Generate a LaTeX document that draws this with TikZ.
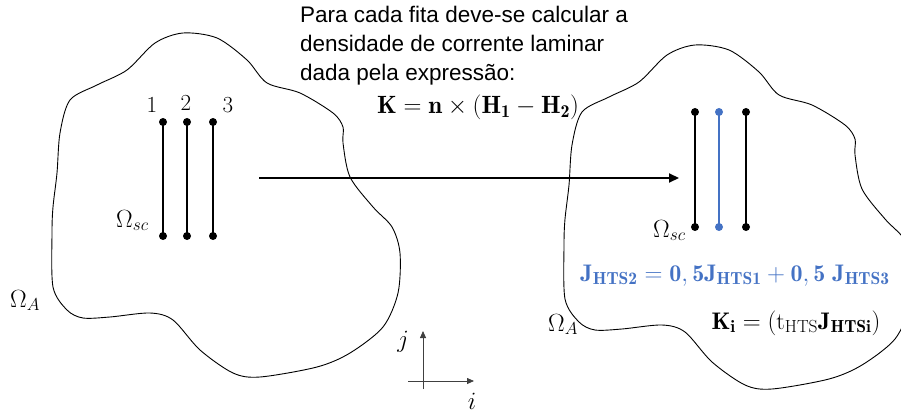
\documentclass[tikz,border=0pt]{standalone}
\usepackage{fontspec}
\newfontfamily\sansf{Liberation Sans}
\usetikzlibrary{arrows.meta}
\definecolor{tapeblue}{RGB}{68,114,196}
\DeclareMathSizes{23}{23}{17}{12}
\DeclareMathSizes{24}{24}{17.5}{13}
\DeclareMathSizes{25}{25}{18}{13}
\begin{document}
\begin{tikzpicture}[x=1pt,y=-1pt,
  blob/.style={draw=black,line width=0.9pt},
  tape/.style={line width=2.6pt},
  dot/.style={circle,fill,inner sep=0pt,minimum size=8pt},
  mainarrow/.style={line width=2pt,-{Triangle[length=10pt,width=9pt]}},
  axis/.style={draw=black!75,line width=0.8pt,-{Triangle[length=7pt,width=6pt]}},
  lbl/.style={font=\fontsize{23}{25}\selectfont,inner sep=0pt},
  eq/.style={font=\fontsize{24}{26}\selectfont,inner sep=0pt}]
\useasboundingbox (0,0) rectangle (901,414);
\def\blobpts{(155,43) (183,33) (217,38) (247,60) (267,83) (300,93) (333,113) (343,127) (343,143) (350,177) (373,207) (392,227) (400,253) (398,293) (383,327) (350,353) (317,367) (260,377) (233,373) (200,350) (173,320) (150,313) (110,317) (83,318) (67,310) (53,287) (52,233) (53,207) (57,173) (60,133) (70,100) (97,85) (127,70)}
\begin{scope}
\clip (0,0) rectangle (901,414);
\draw[blob] plot[smooth cycle,tension=0.5] coordinates {\blobpts};
\draw[blob,shift={(512,12)}] plot[smooth cycle,tension=0.5] coordinates {\blobpts};
\end{scope}
% left tapes
\foreach \n/\x in {1/163,2/187,3/213}{
  \node[dot] (lt\n) at (\x,122) {};
  \node[dot] (lb\n) at (\x,236) {};
  \draw[tape] (lt\n.center) -- (lb\n.center);
}
\node[lbl,anchor=base] (n1) at (152,113) {1};
\node[lbl,anchor=base] (n2) at (186,111) {2};
\node[lbl,anchor=base] (n3) at (228,113) {3};
\node[lbl,anchor=base west] (osc1) at (116,227) {$\Omega_{sc}$};
\node[lbl,anchor=base west] (oa1) at (10,307) {$\Omega_A$};
% right tapes
\foreach \n/\x/\c in {1/695/black,2/719/tapeblue,3/746/black}{
  \node[dot,fill=\c] (rt\n) at (\x,112) {};
  \node[dot,fill=\c] (rb\n) at (\x,227) {};
  \draw[tape,draw=\c] (rt\n.center) -- (rb\n.center);
}
\node[lbl,anchor=base west] (osc2) at (653,237) {$\Omega_{sc}$};
\node[lbl,anchor=base west] (oa2) at (548,331) {$\Omega_A$};
% main arrow
\coordinate (as) at (259,178);
\coordinate (ae) at (679,178);
\draw[mainarrow] (as) -- (ae);
% text
\node[anchor=north west,align=left,inner sep=0pt,
  font=\sansf\fontsize{22.5}{29}\selectfont] (txt) at (300,6)
  {Para cada fita deve-se calcular a\\densidade de corrente laminar\\dada pela expressão:};
\node[eq,anchor=base,font=\fontsize{25}{27}\selectfont] (keq) at (478,114)
  {$\mathbf{K}=\mathbf{n}\times(\mathbf{H_1}-\mathbf{H_2})$};
\node[eq,anchor=base,text=tapeblue] (jeq) at (735,281)
  {$\mathbf{J_{HTS2}}=\mathbf{0,5J_{HTS1}}+\mathbf{0,5\;J_{HTS3}}$};
\node[eq,anchor=base] (kieq) at (796,329)
  {$\mathbf{K_i}=(\mathrm{t_{HTS}}\mathbf{J_{HTSi}})$};
% axes
\coordinate (o) at (423,381);
\coordinate (ix0) at (408,381);
\coordinate (ix1) at (474,381);
\coordinate (jy0) at (423,389);
\coordinate (jy1) at (423,331);
\draw[axis] (ix0) -- (ix1);
\draw[axis] (jy0) -- (jy1);
\node[lbl,anchor=base] (jl) at (403,347) {$j$};
\node[lbl,anchor=base] (il) at (472,409) {$i$};
\end{tikzpicture}
\end{document}
